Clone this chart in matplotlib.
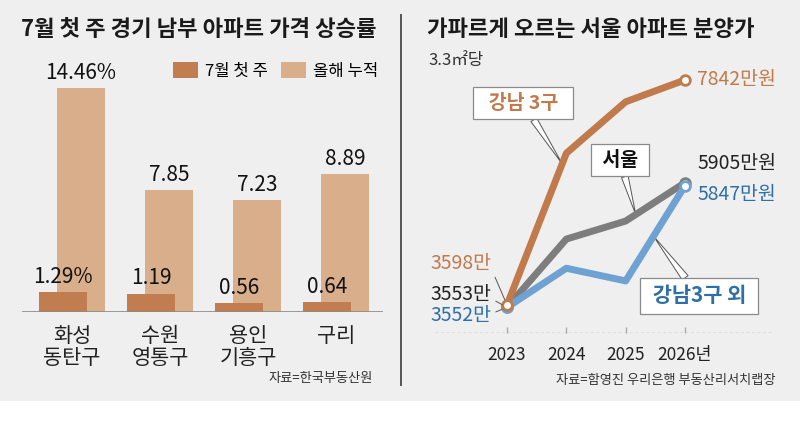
import matplotlib
matplotlib.use("Agg")
import matplotlib.pyplot as plt
from matplotlib.patches import Rectangle
from matplotlib.lines import Line2D
import numpy as np

plt.rcParams['font.family'] = ['Noto Sans CJK KR', 'DejaVu Sans']

# left panel data
regions = ["화성\n동탄구", "수원\n영통구", "용인\n기흥구", "구리"]
week_rate = [1.29, 1.19, 0.56, 0.64]
year_rate = [14.46, 7.85, 7.23, 8.89]
week_labels = ["1.29%", "1.19", "0.56", "0.64"]
year_labels = ["14.46%", "7.85", "7.23", "8.89"]

# right panel data (만원 per 3.3㎡)
years = [2023, 2024, 2025, 2026]
year_ticks = ["2023", "2024", "2025", "2026년"]
gangnam = [3598, 6460, 7430, 7842]
seoul = [3553, 4840, 5180, 5905]
others = [3552, 4290, 4050, 5847]

BG = "#efefef"
DARK = "#c17c50"
LIGHT = "#d9ae8a"
ORANGE = "#c07a4c"
GRAY = "#7d7d7d"
BLUE = "#6fa2d3"
BLUE_TXT = "#2f6ea6"
W, H = 800, 440


def fx(x):
    return x / W


def fy(y):
    return 1 - y / H


fig = plt.figure(figsize=(8, 4.4), dpi=100, facecolor=BG)
fig.patches.append(Rectangle((0, 0), 1, fy(401), transform=fig.transFigure,
                             facecolor="white", edgecolor="none", zorder=0))
fig.lines.append(Line2D([fx(400.5), fx(400.5)], [fy(15), fy(385)],
                        transform=fig.transFigure, color="#555555", lw=1.4))

# ---- left: bar chart ----
ax1 = fig.add_axes([fx(22), fy(312), fx(361), (312 - 60) / H])
ax1.set_facecolor("none")
ax1.set_xlim(-0.568, 3.534)
ax1.set_ylim(0, 252 / 15.5)
ax1.axis("off")
x = np.arange(len(regions))
b2 = ax1.bar(x + 0.102, year_rate, width=0.545, color=LIGHT, label="올해 누적")
b1 = ax1.bar(x - 0.102, week_rate, width=0.545, color=DARK, label="7월 첫 주")
ax1.axhline(0, color="#8a8a8a", lw=1.2)
for i in range(len(regions)):
    ax1.annotate(year_labels[i], (x[i] + 0.102, year_rate[i]), xytext=(0, 11),
                 textcoords="offset points", ha="center", va="center",
                 fontsize=15, fontweight="medium", color="#111111")
    ax1.annotate(week_labels[i], (x[i] - 0.102, week_rate[i]), xytext=(0, 11),
                 textcoords="offset points", ha="center", va="center",
                 fontsize=15, fontweight="medium", color="#111111")
    ax1.text(x[i], -0.85, regions[i], ha="center", va="top", fontsize=15,
             color="#222222", linespacing=1.0)
ax1.legend(handles=[b1, b2], ncol=2, loc="upper right",
           bbox_to_anchor=(fx(378), fy(62)), bbox_transform=fig.transFigure,
           frameon=False, fontsize=12, handlelength=1.5, handleheight=1.1,
           handletextpad=0.4, columnspacing=0.8, borderpad=0, borderaxespad=0)

fig.text(fx(21), fy(30), "7월 첫 주 경기 남부 아파트 가격 상승률", fontsize=16,
         fontweight="bold", va="center", ha="left", color="#1a1a1a")
fig.text(fx(373), fy(378), "자료=한국부동산원", fontsize=9.5, ha="right",
         va="center", color="#333333")

# ---- right: line chart ----
ax2 = fig.add_axes([fx(435), fy(333), fx(337), (333 - 40) / H])
ax2.set_facecolor("none")
ax2.set_xlim(2023 - 72 / 59.3, 2026 + 87 / 59.3)
ax2.set_ylim((495.6 - 333) / 0.053, (495.6 - 40) / 0.053)
for s in ax2.spines.values():
    s.set_visible(False)
ax2.set_yticks([])
ax2.set_xticks(years)
ax2.set_xticklabels(year_ticks)
ax2.tick_params(axis="x", direction="in", length=4, width=1, color="#aaaaaa",
                pad=9, labelsize=12.5, labelcolor="#222222")
ax2.axhline(ax2.get_ylim()[0], color="#999999", lw=1, ls=(0, (2, 2)))

for vals, col in [(seoul, GRAY), (others, BLUE), (gangnam, ORANGE)]:
    ax2.plot(years, vals, color=col, lw=5, marker="o", markevery=[0, 3],
             mfc="white", mec=col, ms=7, mew=2, zorder=3)

# end labels
ax2.annotate("7842만원", (years[-1], gangnam[-1]), xytext=(9, 0),
             textcoords="offset points", va="center", fontsize=14, color=ORANGE)
ax2.annotate("5905만원", (years[-1], seoul[-1]), xytext=(9, 14),
             textcoords="offset points", va="center", fontsize=14, color="#222222")
ax2.annotate("5847만원", (years[-1], others[-1]), xytext=(9, -6),
             textcoords="offset points", va="center", fontsize=14, color=BLUE_TXT)

# start labels
lead = dict(arrowstyle="-", color="#555555", lw=0.7, shrinkA=1, shrinkB=4)
ax2.annotate("3598만", (years[0], gangnam[0]), xytext=(-11, 30),
             textcoords="offset points", ha="right", va="center", fontsize=14,
             color=ORANGE, arrowprops=dict(lead, relpos=(1, 0.2)))
ax2.annotate("3553만", (years[0], seoul[0]), xytext=(-11, 9),
             textcoords="offset points", ha="right", va="center", fontsize=14,
             color="#222222", arrowprops=dict(lead, relpos=(1, 0.3)))
ax2.annotate("3552만", (years[0], others[0]), xytext=(-11, -6),
             textcoords="offset points", ha="right", va="center", fontsize=14,
             color=BLUE_TXT, arrowprops=dict(lead, relpos=(1, 0.6)))

# callout boxes
box = dict(boxstyle="square,pad=0.35", fc="white", ec="#8a8a8a", lw=0.9)
wedge = dict(arrowstyle="wedge,tail_width=0.35,shrink_factor=0.5", fc="white",
             ec="#555555", lw=0.7, shrinkA=0, shrinkB=0)
tip_x = 2023.93
ax2.annotate("  강남 3구  ", (tip_x, np.interp(tip_x, years, gangnam)),
             xytext=(fx(523), fy(103)), textcoords="figure fraction",
             ha="center", va="center", fontsize=14, fontweight="bold",
             color=ORANGE, bbox=box, arrowprops=wedge, zorder=2)
tip_x = 2025.17
ax2.annotate(" 서울 ", (tip_x, np.interp(tip_x, years, seoul)),
             xytext=(fx(620), fy(160)), textcoords="figure fraction",
             ha="center", va="center", fontsize=14, fontweight="bold",
             color="#111111", bbox=box, arrowprops=wedge, zorder=2)
tip_x = 2025.47
ax2.annotate(" 강남3구 외 ", (tip_x, np.interp(tip_x, years, others)),
             xytext=(fx(699), fy(296)), textcoords="figure fraction",
             ha="center", va="center", fontsize=15, fontweight="bold",
             color=BLUE_TXT, bbox=box, arrowprops=wedge, zorder=2)

fig.text(fx(427), fy(30), "가파르게 오르는 서울 아파트 분양가", fontsize=16,
         fontweight="bold", va="center", ha="left", color="#1a1a1a")
fig.text(fx(428), fy(61), "3.3㎡당", fontsize=12, va="center", ha="left",
         color="#333333")
fig.text(fx(775), fy(380), "자료=함영진 우리은행 부동산리서치랩장", fontsize=9.5,
         ha="right", va="center", color="#333333")

fig.savefig("out.png", dpi=100, facecolor=BG)
